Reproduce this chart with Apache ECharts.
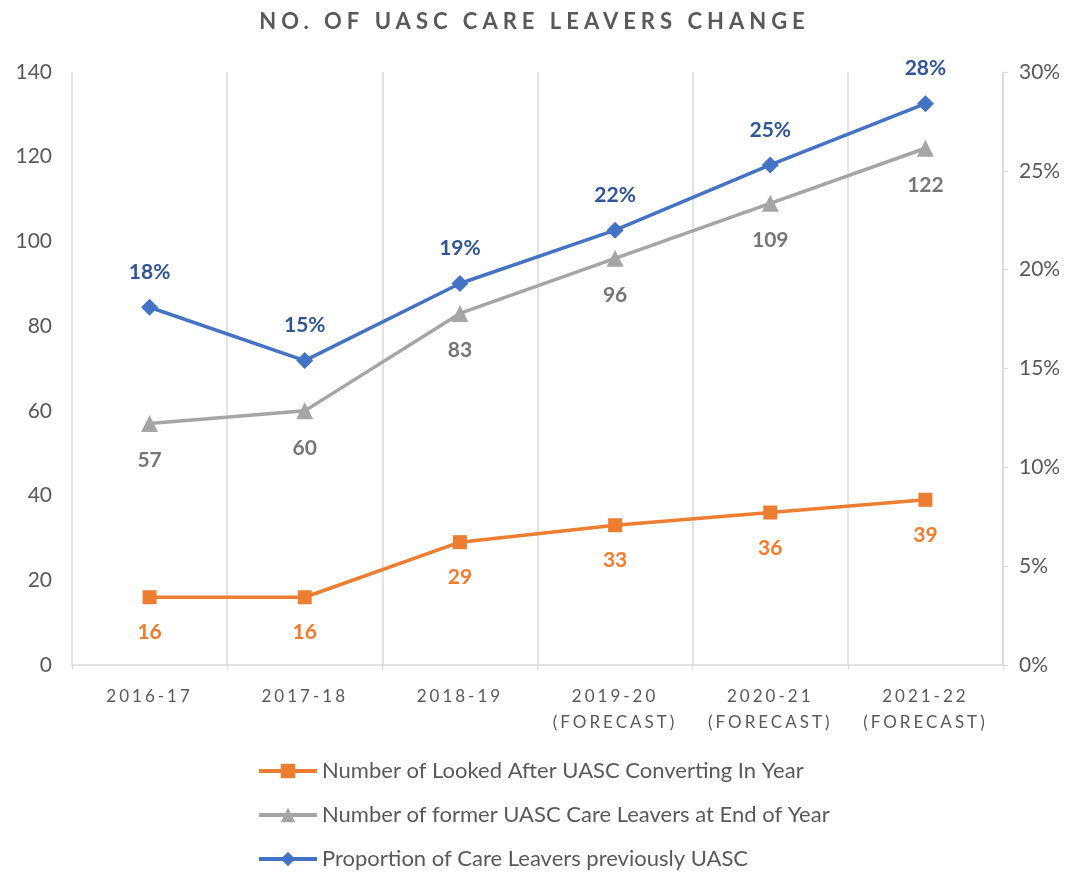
<!DOCTYPE html>
<html><head><meta charset="utf-8">
<script src="https://cdn.jsdelivr.net/npm/echarts@6/dist/echarts.min.js"></script>
<style>html,body{margin:0;padding:0;background:#fff}#c{width:1069px;height:872px}</style>
</head><body><div id="c"></div>
<script>
const categories = ['2016-17', '2017-18', '2018-19', '2019-20\n(FORECAST)', '2020-21\n(FORECAST)', '2021-22\n(FORECAST)'];
const lookedAfterConverting = [16, 16, 29, 33, 36, 39];
const formerCareLeavers = [57, 60, 83, 96, 109, 122];
const proportionPreviouslyUASC = [0.181, 0.154, 0.193, 0.220, 0.253, 0.284];
const seriesNames = ['Number of Looked After UASC Converting In Year', 'Number of former UASC Care Leavers at End of Year', 'Proportion of Care Leavers previously UASC'];
const leftTicks = { min: 0, max: 140, interval: 20 };
const rightTicks = { min: 0, max: 0.30, interval: 0.05 };

// letter-spacing for fonts tagged with a dummy family "xspN" (N = tenths of px)
(function(){
  const P = CanvasRenderingContext2D.prototype;
  ['fillText','strokeText'].forEach(fn => {
    const orig = P[fn];
    P[fn] = function(){
      const m = /xsp(\d+)/.exec(this.font || '');
      try { this.letterSpacing = m ? (m[1]/10) + 'px' : '0px'; } catch(e) {}
      return orig.apply(this, arguments);
    };
  });
})();

const chart = echarts.init(document.getElementById('c'));
const grey = '#595959';
chart.setOption({
  animation: false,
  title: {
    text: 'NO. OF UASC CARE LEAVERS CHANGE',
    left: 'center', top: 6,
    textStyle: { fontFamily: 'Lato, xsp50', fontWeight: 'bold', fontSize: 22, color: grey }
  },
  grid: { left: 72, right: 66, top: 72, bottom: 207 },
  legend: {
    orient: 'vertical', left: 257, top: 760, padding: 0,
    itemWidth: 58, itemHeight: 18, itemGap: 22,
    lineStyle: { width: 4 },
    textStyle: { fontFamily: 'Lato', fontSize: 22, color: grey },
    data: seriesNames
  },
  xAxis: {
    type: 'category', data: categories, boundaryGap: true,
    axisLine: { show: true, lineStyle: { color: '#D9D9D9', width: 1.5 } },
    axisTick: { show: true, length: 5, lineStyle: { color: '#D9D9D9' } },
    splitLine: { show: true, lineStyle: { color: '#D9D9D9', width: 1.5 } },
    axisLabel: { fontFamily: 'Lato, xsp30', fontSize: 17, color: grey, margin: 19, lineHeight: 26 }
  },
  yAxis: [
    { type: 'value', min: leftTicks.min, max: leftTicks.max, interval: leftTicks.interval,
      axisLine: { show: false }, axisTick: { show: false }, splitLine: { show: false },
      axisLabel: { fontFamily: 'Lato', fontSize: 21, color: grey, margin: 20 } },
    { type: 'value', position: 'right', min: rightTicks.min, max: rightTicks.max, interval: rightTicks.interval,
      axisLine: { show: true, lineStyle: { color: '#D9D9D9', width: 1.5 } },
      axisTick: { show: true, length: 5, lineStyle: { color: '#D9D9D9' } },
      splitLine: { show: false },
      axisLabel: { fontFamily: 'Lato', fontSize: 21, color: grey, margin: 16,
        formatter: v => Math.round(v * 100) + '%' } }
  ],
  series: [
    { name: seriesNames[0], type: 'line', yAxisIndex: 0, data: lookedAfterConverting,
      symbol: 'rect', symbolSize: 14, itemStyle: { color: '#ED7D31' },
      lineStyle: { color: '#ED7D31', width: 3.5 },
      label: { show: true, position: 'bottom', distance: 18, fontFamily: 'Lato', fontWeight: 'bold', fontSize: 21, color: '#F47A2C' } },
    { name: seriesNames[1], type: 'line', yAxisIndex: 0, data: formerCareLeavers,
      symbol: 'triangle', symbolSize: 17, itemStyle: { color: '#A5A5A5' },
      lineStyle: { color: '#A5A5A5', width: 3.5 },
      label: { show: true, position: 'bottom', distance: 18, fontFamily: 'Lato', fontWeight: 'bold', fontSize: 21, color: '#767676' } },
    { name: seriesNames[2], type: 'line', yAxisIndex: 1, data: proportionPreviouslyUASC,
      symbol: 'diamond', symbolSize: 17, itemStyle: { color: '#4472C4' },
      lineStyle: { color: '#4472C4', width: 3.5 },
      label: { show: true, position: 'top', distance: 16, fontFamily: 'Lato', fontWeight: 'bold', fontSize: 21, color: '#2F5597',
        formatter: p => Math.round(p.value * 100) + '%' } }
  ]
});
</script></body></html>
